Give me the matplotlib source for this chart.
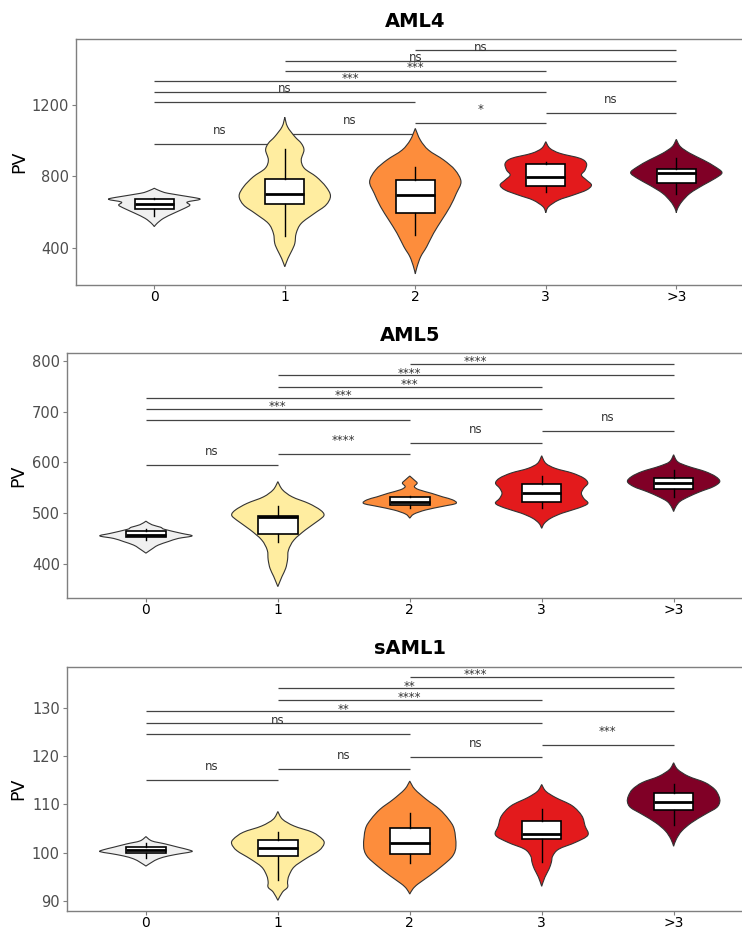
import matplotlib
matplotlib.use("Agg")
import matplotlib.pyplot as plt
from matplotlib.path import Path
from matplotlib.patches import PathPatch

# groups / colours
groups = ["0", "1", "2", "3", ">3"]
fills = ["#F0F0F0", "#FFEDA0", "#FD8D3C", "#E31A1C", "#800026"]
pairs = [(0, 1), (1, 2), (2, 3), (3, 4), (0, 2), (0, 3), (0, 4), (1, 3), (1, 4), (2, 4)]

# ---- AML4 ----
aml4_vy = [
    [734, 720, 706, 683, 672, 657, 640, 622, 594, 566, 538, 520],
    [1130, 1077, 1022, 985, 947, 892, 845, 798, 743, 691, 640, 594, 538, 483, 427, 389, 343, 296],
    [1068, 1003, 947, 892, 836, 771, 706, 631, 557, 483, 408, 353, 297, 256],
    [994, 957, 929, 901, 873, 836, 808, 780, 752, 724, 696, 668, 631, 598],
    [1007, 966, 929, 892, 854, 821, 789, 752, 706, 659, 622, 598],
]
aml4_vw = [
    [0, 0.12, 0.30, 0.85, 1.0, 0.72, 0.78, 0.66, 0.42, 0.20, 0.06, 0],
    [0, 0.06, 0.22, 0.36, 0.42, 0.36, 0.43, 0.69, 0.90, 1.0, 0.90, 0.65, 0.36, 0.25, 0.22, 0.16, 0.07, 0],
    [0, 0.11, 0.29, 0.62, 0.87, 1.0, 0.90, 0.76, 0.58, 0.40, 0.25, 0.12, 0.04, 0],
    [0, 0.09, 0.31, 0.75, 0.89, 0.86, 0.78, 0.89, 1.0, 0.89, 0.60, 0.28, 0.06, 0],
    [0, 0.09, 0.30, 0.59, 0.85, 1.0, 0.85, 0.59, 0.30, 0.12, 0.03, 0],
]
# whislo, q1, median, q3, whishi
aml4_box = [
    [579, 620, 648, 676, 680],
    [469, 646, 700, 784, 951],
    [473, 594, 696, 780, 851],
    [711, 746, 795, 867, 882],
    [702, 762, 818, 839, 901],
]
aml4_sig_y = [979, 1037, 1096, 1154, 1213, 1271, 1331, 1386, 1445, 1503]
aml4_sig = ["ns", "ns", "*", "ns", "ns", "***", "***", "ns", "ns", "ns"]

# ---- AML5 ----
aml5_vy = [
    [484, 477, 472, 468, 460, 455, 450, 444, 437, 431, 421],
    [562, 546, 532, 519, 506, 496, 486, 467, 447, 427, 408, 391, 375, 355],
    [573, 565, 559, 552, 546, 539, 532, 526, 519, 513, 506, 498, 490],
    [613, 598, 588, 579, 569, 559, 549, 539, 529, 519, 510, 500, 490, 480, 470],
    [615, 601, 592, 582, 572, 562, 552, 542, 532, 523, 513, 503],
]
aml5_vw = [
    [0, 0.13, 0.32, 0.40, 0.77, 1.0, 0.70, 0.49, 0.27, 0.16, 0],
    [0, 0.10, 0.31, 0.67, 0.92, 1.0, 0.89, 0.60, 0.35, 0.23, 0.21, 0.17, 0.09, 0],
    [0, 0.10, 0.16, 0.10, 0.20, 0.47, 0.71, 0.93, 1.0, 0.70, 0.34, 0.09, 0],
    [0, 0.09, 0.30, 0.66, 0.91, 1.0, 0.91, 0.86, 0.91, 1.0, 0.80, 0.45, 0.20, 0.06, 0],
    [0, 0.09, 0.32, 0.68, 0.91, 1.0, 0.86, 0.57, 0.32, 0.14, 0.05, 0],
]
aml5_box = [
    [446, 453.5, 457.4, 464, 469],
    [443.6, 458, 491.7, 494.9, 514.6],
    [509.5, 515, 522.5, 531, 533],
    [509.5, 522, 539, 557, 573],
    [531, 547, 559, 570, 585],
]
aml5_sig_y = [594, 617, 639, 661, 683, 705, 727, 749, 772, 794]
aml5_sig = ["ns", "****", "ns", "ns", "***", "***", "***", "****", "****", "****"]

# ---- sAML1 ----
saml1_vy = [
    [103.3, 102.4, 101.8, 101.1, 100.6, 100.2, 99.8, 99.3, 98.7, 98.0, 97.2],
    [108.5, 106.9, 105.5, 104.2, 102.8, 101.8, 100.4, 98.7, 97.0, 95.2, 93.9, 92.8, 91.8, 90.1],
    [114.8, 113.1, 111.0, 109.0, 106.9, 104.9, 101.4, 99.3, 97.3, 95.2, 93.5, 92.5, 91.4],
    [114.1, 112.7, 111.4, 109.7, 107.6, 105.5, 103.6, 102.1, 100.7, 99.3, 98.0, 96.6, 94.9, 93.0],
    [118.6, 117.2, 115.8, 114.5, 113.1, 111.7, 110.5, 109.3, 107.9, 106.2, 104.5, 102.8, 101.3],
]
saml1_vw = [
    [0, 0.13, 0.41, 0.70, 0.91, 1.0, 0.77, 0.49, 0.27, 0.13, 0],
    [0, 0.10, 0.35, 0.75, 0.96, 1.0, 0.89, 0.60, 0.35, 0.24, 0.21, 0.21, 0.10, 0],
    [0, 0.11, 0.36, 0.64, 0.84, 0.96, 1.0, 0.93, 0.71, 0.43, 0.18, 0.07, 0],
    [0, 0.09, 0.30, 0.66, 0.87, 0.94, 1.0, 0.73, 0.37, 0.24, 0.21, 0.16, 0.07, 0],
    [0, 0.09, 0.32, 0.68, 0.89, 0.98, 1.0, 0.93, 0.68, 0.39, 0.18, 0.06, 0],
]
saml1_box = [
    [98.8, 99.83, 100.58, 101.13, 101.96],
    [94.4, 99.22, 100.93, 102.58, 104.16],
    [97.77, 99.69, 101.9, 105.12, 108.28],
    [97.97, 102.78, 103.81, 106.63, 108.97],
    [105.74, 108.82, 110.47, 112.41, 114.12],
]
saml1_sig_y = [115.1, 117.4, 119.8, 122.2, 124.5, 126.8, 129.3, 131.6, 134.0, 136.3]
saml1_sig = ["ns", "ns", "ns", "***", "ns", "**", "****", "**", "****", "****"]

panels = [
    ("AML4", aml4_vy, aml4_vw, aml4_box, aml4_sig_y, aml4_sig, (194, 1565), [400, 800, 1200]),
    ("AML5", aml5_vy, aml5_vw, aml5_box, aml5_sig_y, aml5_sig, (332, 815), [400, 500, 600, 700, 800]),
    ("sAML1", saml1_vy, saml1_vw, saml1_box, saml1_sig_y, saml1_sig, (87.9, 138.5), [90, 100, 110, 120, 130]),
]
# axes rectangles (left, bottom, width, height) in figure fraction
rects = [
    (0.1024, 0.6935, 0.9146, 0.2642),
    (0.0900, 0.3567, 0.9245, 0.2634),
    (0.0900, 0.0205, 0.9245, 0.2626),
]
ylab_x = [-0.0707, -0.0569, -0.0569]


def smooth_side(pts):
    # catmull-rom through the outline points, as bezier segments
    P = [pts[0]] + pts + [pts[-1]]
    verts, codes = [], []
    for i in range(1, len(P) - 2):
        p0, p1, p2, p3 = P[i - 1], P[i], P[i + 1], P[i + 2]
        c1 = (p1[0] + (p2[0] - p0[0]) / 6, p1[1] + (p2[1] - p0[1]) / 6)
        c2 = (p2[0] - (p3[0] - p1[0]) / 6, p2[1] - (p3[1] - p1[1]) / 6)
        verts += [c1, c2, p2]
        codes += [Path.CURVE4] * 3
    return verts, codes


def violin(ax, x, ys, ws, color, half=0.35):
    right = [(x + w * half, y) for y, w in zip(ys, ws)]
    left = [(x - w * half, y) for y, w in zip(ys, ws)][::-1]
    vr, cr = smooth_side(right)
    vl, cl = smooth_side(left)
    verts = [right[0]] + vr + vl + [right[0]]
    codes = [Path.MOVETO] + cr + cl + [Path.CLOSEPOLY]
    ax.add_patch(PathPatch(Path(verts, codes), facecolor=color, edgecolor="#333333",
                           lw=0.8, zorder=2))


fig = plt.figure(figsize=(7.42, 9.30), dpi=100)

for (title, vy, vw, box, sig_y, sig, ylim, yticks), rect, lx in zip(panels, rects, ylab_x):
    ax = fig.add_axes(rect)
    ax.set_xlim(-0.6, 4.6)
    ax.set_ylim(*ylim)

    for i in range(len(groups)):
        violin(ax, i, vy[i], vw[i], fills[i])

    stats = [dict(whislo=b[0], q1=b[1], med=b[2], q3=b[3], whishi=b[4], fliers=[]) for b in box]
    ax.bxp(stats, positions=range(len(groups)), widths=0.3, patch_artist=True,
           showcaps=False, showfliers=False, manage_ticks=False,
           boxprops=dict(facecolor="white", edgecolor="black", lw=1.2),
           medianprops=dict(color="black", lw=2.0),
           whiskerprops=dict(color="black", lw=1.0), zorder=3)

    top_px = ax.bbox.y1
    for (a, b), yv, lab in zip(pairs, sig_y, sig):
        ax.plot([a, b], [yv, yv], color="#444444", lw=0.9, zorder=1, solid_capstyle="butt")
        # labels pushed past the top of the panel are not shown
        if ax.transData.transform((0, yv))[1] + 7.2 * fig.dpi / 72 + 4 > top_px:
            continue
        ax.annotate(lab, xy=((a + b) / 2, yv), xytext=(0, 7.2), textcoords="offset points",
                    ha="center", va="baseline", fontsize=8.5, color="#333333")

    ax.set_xticks(range(len(groups)))
    ax.set_xticklabels(groups)
    ax.set_yticks(yticks)
    ax.tick_params(axis="both", colors="#7F7F7F", length=3, width=0.8, labelsize=10.5)
    ax.tick_params(axis="y", labelcolor="#4D4D4D", pad=2)
    ax.tick_params(axis="x", labelcolor="black", labelsize=10, pad=0.5)
    for s in ["left", "bottom", "top"]:
        ax.spines[s].set_color("#7F7F7F")
        ax.spines[s].set_linewidth(1.0)
    ax.spines["right"].set_visible(False)
    ax.set_ylabel("PV", fontsize=12.5)
    ax.yaxis.set_label_coords(lx, 0.5)
    ax.set_title(title, fontsize=14, fontweight="bold", pad=9)

plt.savefig("out.png", dpi=100)
